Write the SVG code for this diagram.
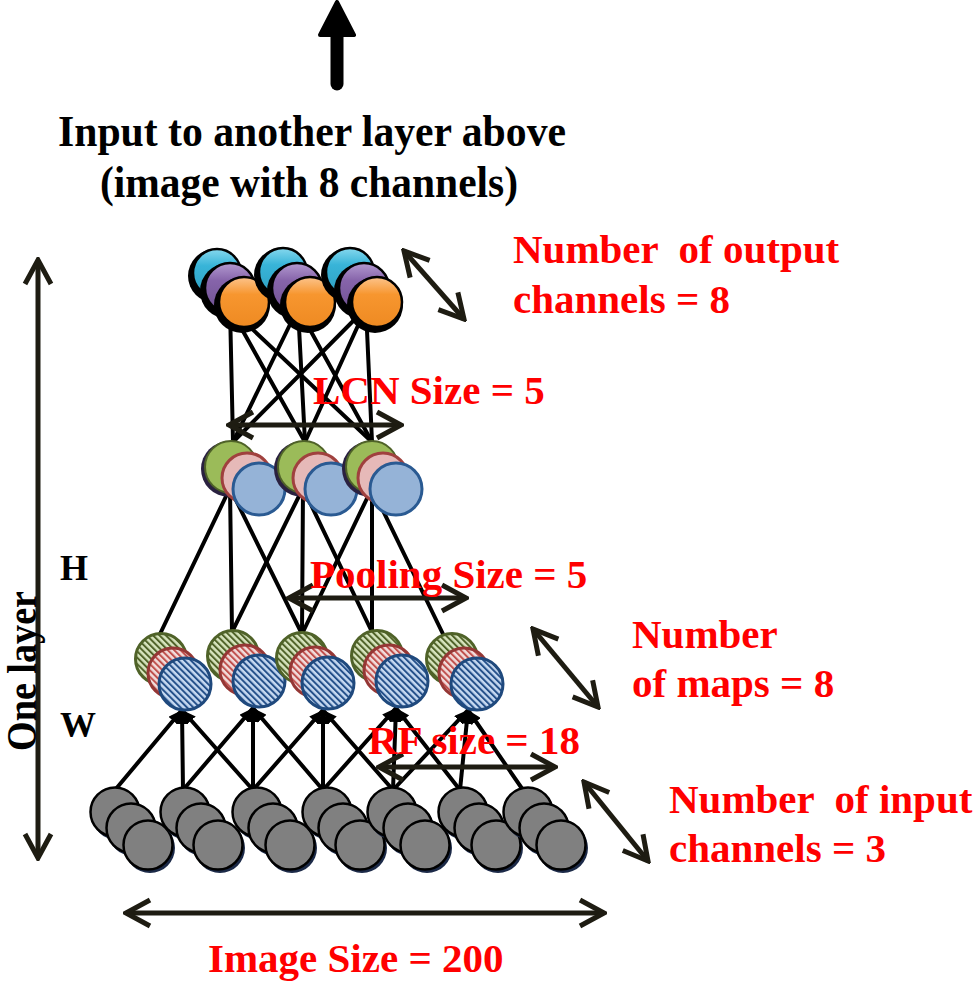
<svg xmlns="http://www.w3.org/2000/svg" width="978" height="981" viewBox="0 0 978 981">
<style>
  .lbl { font-family: "Liberation Serif", "Times New Roman", serif; font-weight: bold; }
  .red { fill: #FF0000; font-size: 41px; }
  .blk { fill: #000000; }
  .conn { stroke: #000; stroke-width: 4; fill: none; stroke-linecap: round; }
  .dim { stroke: #1E1C12; stroke-width: 5; fill: none; marker-start: url(#chev); marker-end: url(#chev); }
  .gray { fill: #808080; stroke: #000; stroke-width: 2.5; }
  .gsh { fill: #1C2A48; }
  .hg { fill: url(#pg); stroke: #4F6228; stroke-width: 3; }
  .hr { fill: url(#pr); stroke: #953735; stroke-width: 3; }
  .hb { fill: url(#pb); stroke: #1F497D; stroke-width: 3; }
  .sg { fill: #9BBB59; stroke: #4F6228; stroke-width: 2; }
  .sr { fill: #E6B9B8; stroke: #A0413E; stroke-width: 3; }
  .sb { fill: #95B3D7; stroke: #2A5A92; stroke-width: 3; }
  .ssh { fill: #2A2140; }
  .tsh { fill: #000; }
  .tc { fill: url(#gc); stroke: #000; stroke-width: 2.5; }
  .tp { fill: url(#gp); stroke: #000; stroke-width: 2.5; }
  .to { fill: url(#go); stroke: #000; stroke-width: 2.5; }
</style>
<defs>
  <pattern id="pg" patternUnits="userSpaceOnUse" width="4.5" height="4.5" patternTransform="rotate(-45)">
    <rect width="4.5" height="4.5" fill="#D7E4BD"/><rect width="2" height="4.5" fill="#4F6228"/>
  </pattern>
  <pattern id="pr" patternUnits="userSpaceOnUse" width="4.5" height="4.5" patternTransform="rotate(-45)">
    <rect width="4.5" height="4.5" fill="#F2DCDB"/><rect width="2" height="4.5" fill="#C0504D"/>
  </pattern>
  <pattern id="pb" patternUnits="userSpaceOnUse" width="4.5" height="4.5" patternTransform="rotate(-45)">
    <rect width="4.5" height="4.5" fill="#C6D9F1"/><rect width="2" height="4.5" fill="#24508A"/>
  </pattern>
  <linearGradient id="gc" x1="0" y1="0" x2="0" y2="1">
    <stop offset="0" stop-color="#86D8EE"/><stop offset="0.35" stop-color="#38B4D8"/><stop offset="1" stop-color="#2E9FC2"/>
  </linearGradient>
  <linearGradient id="gp" x1="0" y1="0" x2="0" y2="1">
    <stop offset="0" stop-color="#B39AD0"/><stop offset="0.35" stop-color="#8664AA"/><stop offset="1" stop-color="#6F5192"/>
  </linearGradient>
  <linearGradient id="go" x1="0" y1="0" x2="0" y2="1">
    <stop offset="0" stop-color="#FCC48C"/><stop offset="0.35" stop-color="#F7962F"/><stop offset="1" stop-color="#EE8A22"/>
  </linearGradient>
  <marker id="ah" viewBox="0 0 14 12" refX="14" refY="6" markerWidth="14" markerHeight="12" markerUnits="userSpaceOnUse" orient="auto">
    <path d="M0,0 L14,6 L0,12 z" fill="#000"/>
  </marker>
  <marker id="chev" viewBox="0 0 30 32" refX="27" refY="16" markerWidth="30" markerHeight="32" markerUnits="userSpaceOnUse" orient="auto-start-reverse">
    <path d="M3,3 L27,16 L3,29" fill="none" stroke="#1E1C12" stroke-width="5"/>
  </marker>
</defs>
<rect width="978" height="981" fill="#FFFFFF"/>

<g id="connectors">
  <line class="conn" x1="230" y1="308" x2="233" y2="442"/>
  <line class="conn" x1="230" y1="308" x2="305" y2="442"/>
  <line class="conn" x1="230" y1="308" x2="372" y2="442"/>
  <line class="conn" x1="298" y1="308" x2="233" y2="442"/>
  <line class="conn" x1="298" y1="308" x2="305" y2="442"/>
  <line class="conn" x1="298" y1="308" x2="372" y2="442"/>
  <line class="conn" x1="366" y1="308" x2="233" y2="442"/>
  <line class="conn" x1="366" y1="308" x2="305" y2="442"/>
  <line class="conn" x1="366" y1="308" x2="372" y2="442"/>
  <line class="conn" x1="230" y1="488" x2="160" y2="634"/>
  <line class="conn" x1="230" y1="488" x2="232" y2="632"/>
  <line class="conn" x1="230" y1="488" x2="302" y2="634"/>
  <line class="conn" x1="303" y1="488" x2="232" y2="632"/>
  <line class="conn" x1="303" y1="488" x2="302" y2="634"/>
  <line class="conn" x1="303" y1="488" x2="372" y2="632"/>
  <line class="conn" x1="372" y1="488" x2="302" y2="634"/>
  <line class="conn" x1="372" y1="488" x2="372" y2="632"/>
  <line class="conn" x1="372" y1="488" x2="443" y2="634"/>
  <g marker-end="url(#ah)">
    <line class="conn" x1="115" y1="790" x2="182" y2="710"/>
    <line class="conn" x1="183" y1="790" x2="182" y2="710"/>
    <line class="conn" x1="253" y1="790" x2="182" y2="710"/>
    <line class="conn" x1="183" y1="790" x2="253" y2="708"/>
    <line class="conn" x1="253" y1="790" x2="253" y2="708"/>
    <line class="conn" x1="323" y1="790" x2="253" y2="708"/>
    <line class="conn" x1="253" y1="790" x2="323" y2="710"/>
    <line class="conn" x1="323" y1="790" x2="323" y2="710"/>
    <line class="conn" x1="393" y1="790" x2="323" y2="710"/>
    <line class="conn" x1="323" y1="790" x2="396" y2="708"/>
    <line class="conn" x1="393" y1="790" x2="396" y2="708"/>
    <line class="conn" x1="460" y1="790" x2="396" y2="708"/>
    <line class="conn" x1="393" y1="790" x2="468" y2="710"/>
    <line class="conn" x1="460" y1="790" x2="468" y2="710"/>
    <line class="conn" x1="523" y1="790" x2="468" y2="710"/>
  </g>
</g>

<g id="input-layer">
  <g id="in-1">
    <circle class="gsh" cx="117" cy="815" r="25"/><circle class="gray" cx="115" cy="812" r="24.5"/>
    <circle class="gsh" cx="133" cy="831" r="25"/><circle class="gray" cx="131" cy="828" r="24.5"/>
    <circle class="gsh" cx="150" cy="848" r="25"/><circle class="gray" cx="148" cy="845" r="24.5"/>
  </g>
  <g id="in-2">
    <circle class="gsh" cx="187" cy="815" r="25"/><circle class="gray" cx="185" cy="812" r="24.5"/>
    <circle class="gsh" cx="203" cy="831" r="25"/><circle class="gray" cx="201" cy="828" r="24.5"/>
    <circle class="gsh" cx="220" cy="848" r="25"/><circle class="gray" cx="218" cy="845" r="24.5"/>
  </g>
  <g id="in-3">
    <circle class="gsh" cx="259" cy="815" r="25"/><circle class="gray" cx="257" cy="812" r="24.5"/>
    <circle class="gsh" cx="275" cy="831" r="25"/><circle class="gray" cx="273" cy="828" r="24.5"/>
    <circle class="gsh" cx="292" cy="848" r="25"/><circle class="gray" cx="290" cy="845" r="24.5"/>
  </g>
  <g id="in-4">
    <circle class="gsh" cx="329" cy="815" r="25"/><circle class="gray" cx="327" cy="812" r="24.5"/>
    <circle class="gsh" cx="345" cy="831" r="25"/><circle class="gray" cx="343" cy="828" r="24.5"/>
    <circle class="gsh" cx="362" cy="848" r="25"/><circle class="gray" cx="360" cy="845" r="24.5"/>
  </g>
  <g id="in-5">
    <circle class="gsh" cx="394" cy="815" r="25"/><circle class="gray" cx="392" cy="812" r="24.5"/>
    <circle class="gsh" cx="410" cy="831" r="25"/><circle class="gray" cx="408" cy="828" r="24.5"/>
    <circle class="gsh" cx="427" cy="848" r="25"/><circle class="gray" cx="425" cy="845" r="24.5"/>
  </g>
  <g id="in-6">
    <circle class="gsh" cx="465" cy="815" r="25"/><circle class="gray" cx="463" cy="812" r="24.5"/>
    <circle class="gsh" cx="481" cy="831" r="25"/><circle class="gray" cx="479" cy="828" r="24.5"/>
    <circle class="gsh" cx="498" cy="848" r="25"/><circle class="gray" cx="496" cy="845" r="24.5"/>
  </g>
  <g id="in-7">
    <circle class="gsh" cx="530" cy="815" r="25"/><circle class="gray" cx="528" cy="812" r="24.5"/>
    <circle class="gsh" cx="546" cy="831" r="25"/><circle class="gray" cx="544" cy="828" r="24.5"/>
    <circle class="gsh" cx="563" cy="848" r="25"/><circle class="gray" cx="561" cy="845" r="24.5"/>
  </g>
</g>

<g id="conv-layer">
  <g id="conv-1"><circle class="hg" cx="161" cy="659" r="25.5"/><circle class="hr" cx="173" cy="673" r="25"/><circle class="hb" cx="185" cy="684" r="26"/></g>
  <g id="conv-2"><circle class="hg" cx="233" cy="656" r="25.5"/><circle class="hr" cx="245" cy="670" r="25"/><circle class="hb" cx="259" cy="681" r="26"/></g>
  <g id="conv-3"><circle class="hg" cx="302" cy="658" r="25.5"/><circle class="hr" cx="315" cy="672" r="25"/><circle class="hb" cx="328" cy="683" r="26"/></g>
  <g id="conv-4"><circle class="hg" cx="377" cy="656" r="25.5"/><circle class="hr" cx="389" cy="670" r="25"/><circle class="hb" cx="402" cy="681" r="26"/></g>
  <g id="conv-5"><circle class="hg" cx="452" cy="659" r="25.5"/><circle class="hr" cx="464" cy="673" r="25"/><circle class="hb" cx="477" cy="684" r="26"/></g>
</g>

<g id="pool-layer">
  <g id="pool-1"><circle class="ssh" cx="229" cy="469" r="28"/><circle class="sg" cx="231" cy="467" r="26"/><circle class="sr" cx="247" cy="478" r="25"/><circle class="sb" cx="259" cy="489" r="26"/></g>
  <g id="pool-2"><circle class="ssh" cx="302" cy="469" r="28"/><circle class="sg" cx="304" cy="467" r="26"/><circle class="sr" cx="318" cy="478" r="25"/><circle class="sb" cx="331" cy="489" r="26"/></g>
  <g id="pool-3"><circle class="ssh" cx="370" cy="469" r="28"/><circle class="sg" cx="372" cy="467" r="26"/><circle class="sr" cx="383" cy="478" r="25"/><circle class="sb" cx="396" cy="489" r="26"/></g>
</g>

<g id="lcn-layer">
  <g id="lcn-1">
    <circle class="tsh" cx="215" cy="276" r="27"/><circle class="tc" cx="217" cy="273" r="24"/>
    <circle class="tsh" cx="228" cy="291" r="28"/><circle class="tp" cx="230" cy="288" r="25"/>
    <circle class="tsh" cx="242" cy="305" r="28"/><circle class="to" cx="244" cy="302" r="25"/>
  </g>
  <g id="lcn-2">
    <circle class="tsh" cx="281" cy="275" r="27"/><circle class="tc" cx="283" cy="272" r="24"/>
    <circle class="tsh" cx="295" cy="291" r="28"/><circle class="tp" cx="297" cy="288" r="25"/>
    <circle class="tsh" cx="308" cy="305" r="28"/><circle class="to" cx="310" cy="302" r="25"/>
  </g>
  <g id="lcn-3">
    <circle class="tsh" cx="348" cy="275" r="27"/><circle class="tc" cx="350" cy="272" r="24"/>
    <circle class="tsh" cx="362" cy="291" r="28"/><circle class="tp" cx="364" cy="288" r="25"/>
    <circle class="tsh" cx="375" cy="305" r="28"/><circle class="to" cx="377" cy="302" r="25"/>
  </g>
</g>

<g id="dimension-arrows">
  <path d="M337,84 L337,32" stroke="#000" stroke-width="13" stroke-linecap="round" fill="none"/>
  <path d="M320,35 L337,2 L354,35 Z" fill="#000" stroke="#000" stroke-width="4" stroke-linejoin="round"/>
  <line class="dim" x1="38" y1="260" x2="38" y2="858"/>
  <line class="dim" x1="126" y1="913" x2="604" y2="913"/>
  <line class="dim" x1="229" y1="425" x2="401" y2="425"/>
  <line class="dim" x1="289" y1="598" x2="466" y2="598"/>
  <line class="dim" x1="379" y1="767" x2="555" y2="767"/>
  <line class="dim" x1="404" y1="251" x2="464" y2="319"/>
  <line class="dim" x1="533" y1="629" x2="598" y2="707"/>
  <line class="dim" x1="584" y1="782" x2="648" y2="861"/>
</g>

<g id="labels" class="lbl">
  <text class="blk" x="312" y="146" font-size="45" text-anchor="middle" textLength="508" lengthAdjust="spacingAndGlyphs">Input to another layer above</text>
  <text class="blk" x="309" y="197" font-size="45" text-anchor="middle" textLength="418" lengthAdjust="spacingAndGlyphs">(image with 8 channels)</text>
  <text class="blk" x="60" y="580" font-size="36">H</text>
  <text class="blk" x="60" y="737" font-size="36">W</text>
  <text class="blk" font-size="42" text-anchor="middle" textLength="160" lengthAdjust="spacingAndGlyphs" transform="translate(36,671) rotate(-90)">One layer</text>
  <text class="red" x="513" y="263" xml:space="preserve" style="white-space:pre">Number  of output</text>
  <text class="red" x="513" y="313">channels = 8</text>
  <text class="red" x="313" y="404">LCN Size = 5</text>
  <text class="red" x="310" y="588">Pooling Size = 5</text>
  <text class="red" x="632" y="648">Number</text>
  <text class="red" x="632" y="697">of maps = 8</text>
  <text class="red" x="368" y="754">RF size = 18</text>
  <text class="red" x="669" y="813" xml:space="preserve" style="white-space:pre">Number  of input</text>
  <text class="red" x="669" y="862">channels = 3</text>
  <text class="red" x="208" y="972">Image Size = 200</text>
</g>
</svg>
